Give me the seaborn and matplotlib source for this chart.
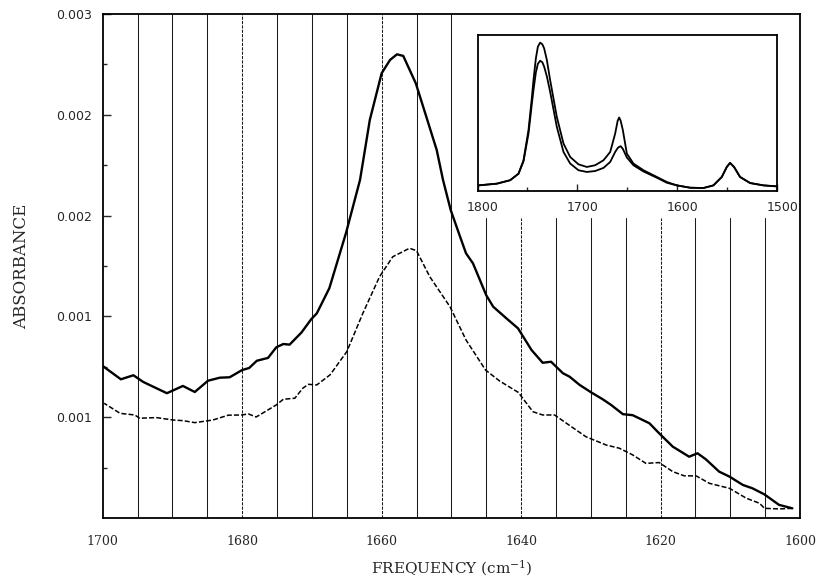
import numpy as np
import matplotlib
matplotlib.use("Agg")
import matplotlib.pyplot as plt
from matplotlib.transforms import ScaledTranslation
import seaborn as sns

# ---------------- data ----------------
solid_x = [1700.0, 1697.4, 1695.6, 1694.2, 1692.75, 1690.8, 1688.5, 1686.8, 1684.9, 1683.2,
           1681.8, 1680.0, 1679.0, 1677.9, 1676.3, 1675.1, 1674.1, 1673.2, 1671.5, 1670.1,
           1669.3, 1667.5, 1665.1, 1663.1, 1662.4, 1661.7, 1660.0, 1658.8, 1657.8, 1656.9,
           1655.1, 1653.6, 1652.1, 1651.2, 1650.1, 1648.8, 1647.9, 1646.9, 1645.0, 1644.0,
           1642.1, 1640.45, 1638.5, 1636.9, 1635.7, 1634.0, 1633.05, 1631.6, 1629.9, 1628.3,
           1627.1, 1625.4, 1624.0, 1621.6, 1620.2, 1618.25, 1615.9, 1614.7, 1613.5, 1611.6,
           1610.1, 1608.2, 1606.8, 1605.1, 1603.0, 1601.1]
solid_y = [0.001254, 0.001188, 0.001208, 0.001175, 0.001151, 0.001119, 0.001155, 0.001125, 0.001181, 0.001196,
           0.001198, 0.001234, 0.001244, 0.001280, 0.001294, 0.001347, 0.001363, 0.001360, 0.001420, 0.001486,
           0.001515, 0.001640, 0.001915, 0.002177, 0.002325, 0.002474, 0.002706, 0.002772, 0.002800, 0.002792,
           0.002656, 0.002491, 0.002325, 0.002177, 0.002028, 0.001900, 0.001813, 0.001763, 0.001605, 0.001548,
           0.001490, 0.001441, 0.001333, 0.001270, 0.001275, 0.001218, 0.001201, 0.001160, 0.001122, 0.001089,
           0.001061, 0.001015, 0.001010, 0.000970, 0.000920, 0.000854, 0.000804, 0.000821, 0.000791, 0.000730,
           0.000705, 0.000664, 0.000647, 0.000617, 0.000565, 0.000548]

dashed_x = [1699.8, 1697.5, 1695.4, 1694.7, 1692.3, 1689.9, 1688.5, 1686.8, 1684.2, 1682.0,
            1680.1, 1679.1, 1678.0, 1676.5, 1675.1, 1674.1, 1672.45, 1671.3, 1670.5, 1669.3,
            1667.4, 1665.0, 1662.7, 1660.3, 1658.4, 1656.0, 1655.0, 1653.1, 1650.2, 1647.9,
            1645.1, 1643.1, 1640.4, 1638.3, 1636.9, 1635.2, 1633.5, 1630.7, 1627.8, 1625.9,
            1624.0, 1622.1, 1620.2, 1618.25, 1616.6, 1614.9, 1613.0, 1610.1, 1607.7, 1605.8,
            1605.1, 1603.0, 1601.1]
dashed_y = [0.001069, 0.001019, 0.001011, 0.000995, 0.000998, 0.000986, 0.000983, 0.000973, 0.000986, 0.001010,
            0.001011, 0.001016, 0.001001, 0.001032, 0.001061, 0.001089, 0.001094, 0.001144, 0.001163, 0.001160,
            0.001210, 0.001325, 0.001515, 0.001697, 0.001796, 0.001838, 0.001826, 0.001697, 0.001548, 0.001383,
            0.001234, 0.001180, 0.001123, 0.001027, 0.001011, 0.001011, 0.000970, 0.000903, 0.000862, 0.000846,
            0.000813, 0.000771, 0.000775, 0.000730, 0.000709, 0.000709, 0.000672, 0.000647, 0.000598, 0.000573,
            0.000548, 0.000545, 0.000548]

inset_x = [1799, 1780.6, 1767.3, 1758.9, 1753.9, 1748.9, 1745.5, 1743.9, 1741.5, 1739.5,
           1737.2, 1735.0, 1733.2, 1730.5, 1727.2, 1720.5, 1713.8, 1707.1, 1698.8, 1690.4,
           1682.1, 1673.7, 1667.0, 1662.0, 1659.5, 1658.0, 1656.5, 1654.3, 1650.3, 1643.7,
           1633.6, 1620.2, 1610.3, 1600.2, 1586.9, 1573.5, 1563.5, 1555.1, 1550.1, 1546.8,
           1542.8, 1536.8, 1526.7, 1513.4, 1500.7]
inset_upper = [0.036, 0.047, 0.069, 0.111, 0.197, 0.390, 0.600, 0.711, 0.850, 0.925,
               0.951, 0.940, 0.914, 0.840, 0.711, 0.475, 0.304, 0.218, 0.171, 0.154,
               0.165, 0.197, 0.250, 0.368, 0.450, 0.471, 0.450, 0.390, 0.240, 0.176,
               0.133, 0.090, 0.058, 0.036, 0.021, 0.019, 0.036, 0.090, 0.154, 0.180,
               0.154, 0.090, 0.051, 0.036, 0.030]
inset_lower = [0.036, 0.047, 0.069, 0.111, 0.190, 0.368, 0.560, 0.647, 0.760, 0.815,
               0.835, 0.825, 0.797, 0.735, 0.636, 0.411, 0.250, 0.176, 0.133, 0.122,
               0.128, 0.148, 0.186, 0.250, 0.275, 0.283, 0.287, 0.270, 0.215, 0.165,
               0.125, 0.085, 0.053, 0.036, 0.021, 0.019, 0.036, 0.090, 0.154, 0.180,
               0.154, 0.090, 0.051, 0.036, 0.030]

ytick_vals = [0.003, 0.0025, 0.002, 0.0015, 0.001]
ytick_labels = ["0.003", "0.002", "0.002", "0.001", "0.001"]
xtick_vals = [1700, 1680, 1660, 1640, 1620, 1600]
inset_xticks = [1800, 1700, 1600, 1500]

# ---------------- figure ----------------
sns.set_style("white")
plt.rcParams["mathtext.fontset"] = "dejavuserif"

fig = plt.figure(figsize=(8.16, 5.83), dpi=100)
ax = fig.add_axes([0.1259, 0.1115, 0.8545, 0.8645])

ax.set_xlim(1700, 1600)
ax.set_ylim(0.0005, 0.003)

# vertical reference lines every 5 cm-1
inset_cut = (0.00199 - 0.0005) / 0.0025
for gx in np.arange(1695, 1600, -5):
    ls = (0, (3, 1.2)) if gx % 20 == 0 else "-"
    top = inset_cut if gx < 1648 else 1.0
    ax.axvline(gx, ymin=0, ymax=top, color="#1a1a1a", lw=0.75, ls=ls, zorder=1)

sns.lineplot(x=solid_x, y=solid_y, ax=ax, color="black", linewidth=1.7, zorder=3)
sns.lineplot(x=dashed_x, y=dashed_y, ax=ax, color="black", linewidth=1.1,
             linestyle=(0, (3.3, 1.4)), zorder=3)

ax.set_yticks(ytick_vals)
ax.set_yticklabels(ytick_labels)
ax.set_yticks([0.00275, 0.00225, 0.00175, 0.00125, 0.00075], minor=True)
ax.set_xticks(xtick_vals)
ax.set_xticklabels([str(v) for v in xtick_vals])

ax.tick_params(axis="y", which="major", direction="in", length=6, width=1.0,
               pad=7.5, labelsize=9, left=True)
ax.tick_params(axis="y", which="minor", direction="in", length=3, width=1.0, left=True)
ax.tick_params(axis="x", which="both", length=0, pad=12, labelsize=9)
for lab in ax.get_yticklabels():
    lab.set_family("DejaVu Sans")
for lab in ax.get_xticklabels():
    lab.set_family("DejaVu Serif")

for s in ax.spines.values():
    s.set_visible(True)
    s.set_linewidth(1.3)
    s.set_color("black")

ax.set_xlabel("FREQUENCY (cm$^{-1}$)", family="DejaVu Serif", fontsize=11, labelpad=8)
ax.set_ylabel("ABSORBANCE", family="DejaVu Serif", fontsize=12, labelpad=19)

# ---------------- inset ----------------
ins = fig.add_axes([0.5852, 0.6724, 0.3667, 0.2676])
ins.set_facecolor("white")
sns.lineplot(x=inset_x, y=inset_upper, ax=ins, color="black", linewidth=1.3)
sns.lineplot(x=inset_x, y=inset_lower, ax=ins, color="black", linewidth=1.3)
ins.set_xlim(1800, 1500)
ins.set_ylim(0, 1)
ins.set_yticks([])
ins.set_xticks(inset_xticks)
ins.set_xticklabels([str(v) for v in inset_xticks])
ins.set_xticks([1750, 1650, 1550], minor=True)
ins.tick_params(axis="x", which="major", direction="in", length=5, width=1.0,
                pad=7, labelsize=9, bottom=True)
ins.tick_params(axis="x", which="minor", direction="in", length=3, width=1.0, bottom=True)
for lab in ins.get_xticklabels():
    lab.set_family("DejaVu Sans")
    lab.set_transform(lab.get_transform() + ScaledTranslation(4 / 72, 0, fig.dpi_scale_trans))
for s in ins.spines.values():
    s.set_visible(True)
    s.set_linewidth(1.3)
    s.set_color("black")

fig.savefig("out.png", dpi=100)
